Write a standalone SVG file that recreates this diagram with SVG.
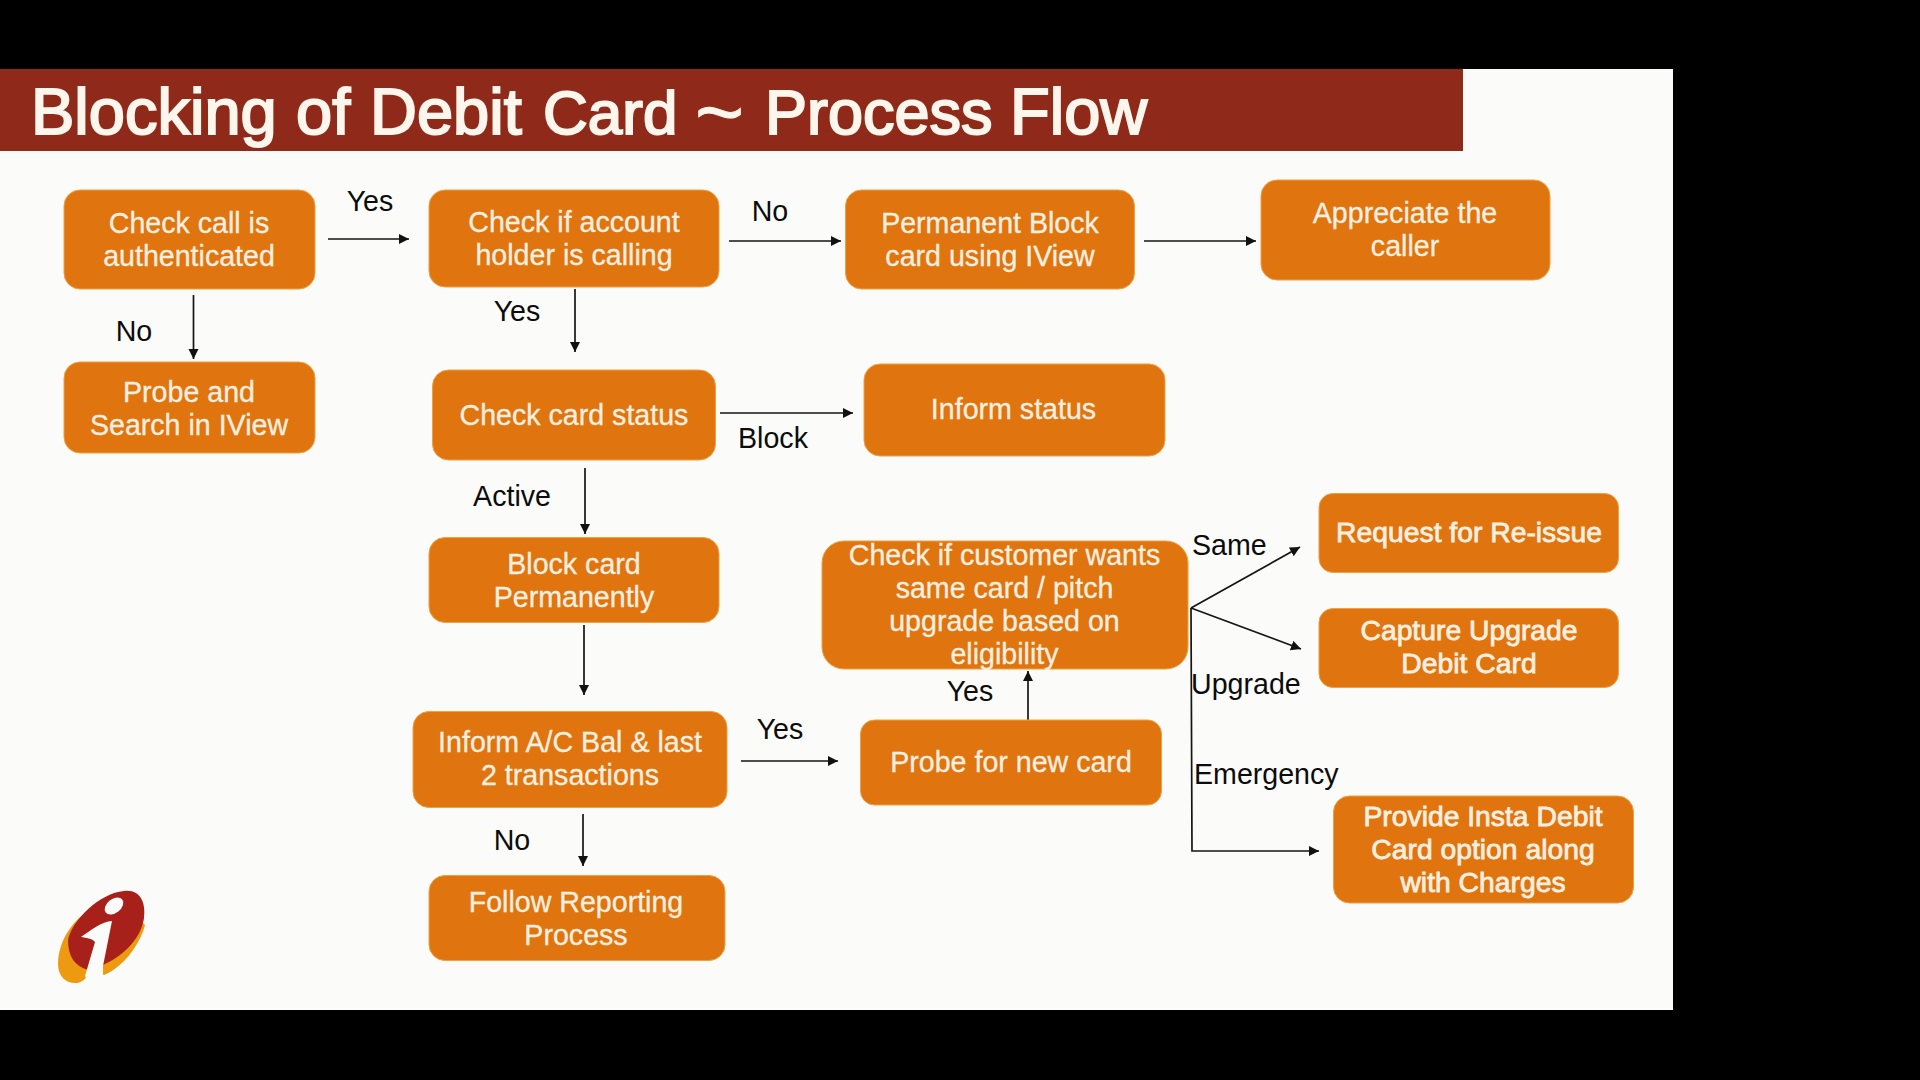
<svg xmlns="http://www.w3.org/2000/svg" width="1920" height="1080" viewBox="0 0 1920 1080">
<style>
.n{fill:#E0740F;stroke:#F0A040;stroke-width:1}
.t{font-family:"Liberation Sans",Arial,sans-serif;font-size:28.600px;fill:#FBF0E0;text-anchor:middle;stroke:#FBF0E0;stroke-width:.3}
.b{font-size:28.300px;stroke-width:.8}
.l{font-family:"Liberation Sans",Arial,sans-serif;font-size:28.600px;fill:#0c0c0c}
.m{text-anchor:middle}
.c{fill:none;stroke:#151515;stroke-width:1.7}
.a{marker-end:url(#arrow)}
</style>
<defs>
<marker id="arrow" markerUnits="userSpaceOnUse" markerWidth="12" markerHeight="12" refX="10" refY="5" orient="auto"><path d="M0 0L10 5L0 10Z" fill="#111"/></marker>
</defs>
<rect width="1920" height="1080" fill="#000"/>
<rect x="0" y="69" width="1673" height="941" fill="#FBFBF9"/>
<g id="header">
<rect x="0" y="69" width="1463" height="82" fill="#8F2A1A"/>
<text y="134" font-family="Liberation Sans, Arial, sans-serif" font-size="65" fill="#FDF6EC" stroke="#FDF6EC" stroke-width="2"><tspan x="31">Blocking </tspan><tspan x="296">of </tspan><tspan x="370">Debit </tspan><tspan x="543" font-size="62">Card </tspan><tspan x="695" y="141" font-size="84" stroke-width="1">~</tspan><tspan y="134" font-size="30"> </tspan><tspan x="765" font-size="63">Process </tspan><tspan x="1010">Flow</tspan></text>
</g>
<g id="logo">
<path d="M79 918C64 932 58 950 58 964C58 978 68 984 77 983C84 982 88 976 92 968L104 975C122 968 140 945 145 925L120 900Z" fill="#EE9A10"/>
<path d="M124 891C140 889 146 902 144 918C141 938 125 955 103 965L88 970C75 966 68 957 68 940C72 920 100 893 124 891Z" fill="#A8201A"/>
<ellipse cx="114" cy="906" rx="10.500" ry="7" transform="rotate(-38 114 906)" fill="#FBFBF9"/>
<path d="M81 937C90 931 102 921 112 921L103 966L103 974L92 990L85 976L95 942C92 938 86 938 81 937Z" fill="#FBFBF9"/>
</g>
<g id="connectors">
<path class="c a" d="M328 239H409"/>
<path class="c a" d="M193.500 295V359"/>
<path class="c a" d="M575 289V352"/>
<path class="c a" d="M729 241H841"/>
<path class="c a" d="M1144 241H1256"/>
<path class="c a" d="M720 413H853"/>
<path class="c a" d="M585 468V534"/>
<path class="c a" d="M584 625V695"/>
<path class="c a" d="M741 761H838"/>
<path class="c a" d="M583 814V866"/>
<path class="c a" d="M1028 720V671"/>
<path class="c a" d="M1191 608L1300 547"/>
<path class="c a" d="M1191 608L1301 649"/>
<path class="c a" d="M1191 608L1192 851H1319"/>
</g>
<g id="labels">
<text class="l m" x="370" y="211">Yes</text>
<text class="l m" x="134" y="341">No</text>
<text class="l m" x="517" y="321">Yes</text>
<text class="l m" x="770" y="221">No</text>
<text class="l m" x="773" y="448">Block</text>
<text class="l m" x="512" y="506">Active</text>
<text class="l m" x="780" y="739">Yes</text>
<text class="l m" x="512" y="850">No</text>
<text class="l m" x="970" y="701">Yes</text>
<text class="l" x="1192" y="555">Same</text>
<text class="l" x="1191" y="694">Upgrade</text>
<text class="l" x="1194" y="784">Emergency</text>
</g>
<g id="n-authenticated"><rect class="n" x="64" y="190" width="251" height="99" rx="16"/><text class="t" x="189" y="233">Check call is</text><text class="t" x="189" y="266">authenticated</text></g>
<g id="n-probe-search"><rect class="n" x="64" y="362" width="251" height="91" rx="16"/><text class="t" x="189" y="402">Probe and</text><text class="t" x="189" y="435">Search in IView</text></g>
<g id="n-holder"><rect class="n" x="429" y="190" width="290" height="97" rx="16"/><text class="t" x="574" y="232">Check if account</text><text class="t" x="574" y="265">holder is calling</text></g>
<g id="n-card-status"><rect class="n" x="432.500" y="370" width="283" height="90" rx="16"/><text class="t" x="574" y="425">Check card status</text></g>
<g id="n-block"><rect class="n" x="429" y="537.500" width="290" height="85" rx="16"/><text class="t" x="574" y="574">Block card</text><text class="t" x="574" y="607">Permanently</text></g>
<g id="n-inform-bal"><rect class="n" x="413" y="711.500" width="314" height="96" rx="16"/><text class="t" x="570" y="752">Inform A/C Bal &amp; last</text><text class="t" x="570" y="785">2 transactions</text></g>
<g id="n-follow"><rect class="n" x="429" y="875.500" width="296" height="85" rx="16"/><text class="t" x="576" y="912">Follow Reporting</text><text class="t" x="576" y="945">Process</text></g>
<g id="n-permanent"><rect class="n" x="845.500" y="190" width="289" height="99" rx="16"/><text class="t" x="990" y="233">Permanent Block</text><text class="t" x="990" y="266">card using IView</text></g>
<g id="n-appreciate"><rect class="n" x="1261" y="180" width="289" height="100" rx="16"/><text class="t" x="1405" y="223">Appreciate the</text><text class="t" x="1405" y="256">caller</text></g>
<g id="n-inform-status"><rect class="n" x="864" y="364" width="301" height="92" rx="16"/><text class="t" x="1013.500" y="419">Inform status</text></g>
<g id="n-customer"><rect class="n" x="822" y="541" width="366" height="128" rx="22"/><text class="t" x="1004.500" y="565">Check if customer wants</text><text class="t" x="1004.500" y="598">same card / pitch</text><text class="t" x="1004.500" y="631">upgrade based on</text><text class="t" x="1004.500" y="664">eligibility</text></g>
<g id="n-probe-new"><rect class="n" x="860.500" y="720" width="301" height="85" rx="14"/><text class="t" x="1011" y="772">Probe for new card</text></g>
<g id="n-reissue"><rect class="n" x="1319" y="493.500" width="299.500" height="79" rx="14"/><text class="t b" x="1469" y="542">Request for Re-issue</text></g>
<g id="n-upgrade"><rect class="n" x="1319" y="608.500" width="299.500" height="79" rx="14"/><text class="t b" x="1469" y="640">Capture Upgrade</text><text class="t b" x="1469" y="673">Debit Card</text></g>
<g id="n-insta"><rect class="n" x="1333.500" y="796" width="300" height="107" rx="16"/><text class="t b" x="1483" y="826">Provide Insta Debit</text><text class="t b" x="1483" y="859">Card option along</text><text class="t b" x="1483" y="892">with Charges</text></g>
</svg>
